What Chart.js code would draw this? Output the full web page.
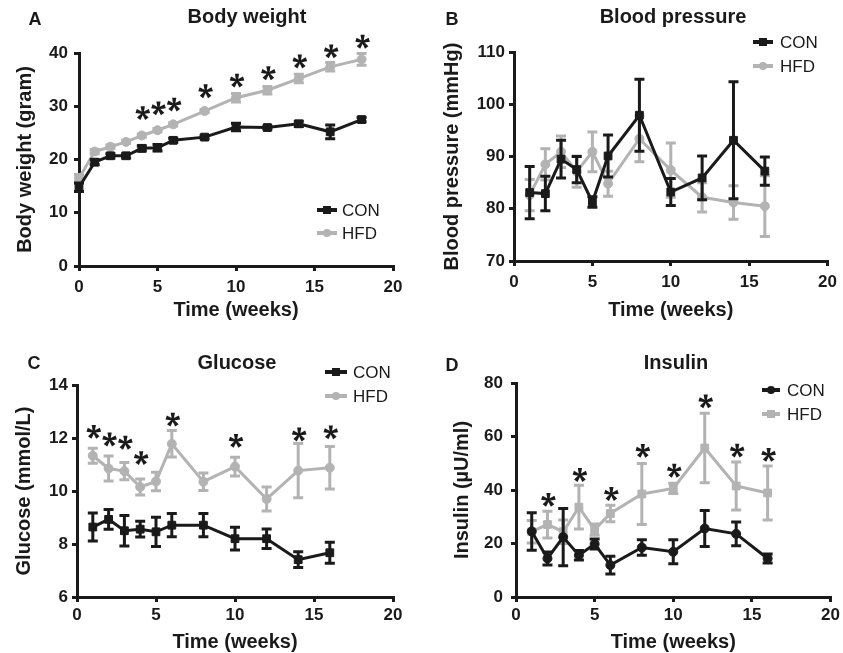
<!DOCTYPE html>
<html>
<head>
<meta charset="utf-8">
<script src="https://cdn.jsdelivr.net/npm/chart.js@4.4.0/dist/chart.umd.min.js"></script>
<style>
  body { margin: 0; background: #fff; }
  #wrap { position: relative; width: 843px; height: 653px; overflow: hidden; background: #fff; }
  canvas { position: absolute; }
</style>
</head>
<body>
<div id="wrap">
  <canvas id="weightChart" width="421" height="322" style="left:0;top:0"></canvas>
  <canvas id="pressureChart" width="422" height="322" style="left:421px;top:0"></canvas>
  <canvas id="glucoseChart" width="421" height="334" style="left:0;top:320px"></canvas>
  <canvas id="insulinChart" width="422" height="334" style="left:421px;top:320px"></canvas>
</div>
<script>
const BLACK = '#1a1a1a';
const GREY = '#b3b3b3';
const FONT = '"Liberation Sans", Arial, Helvetica, sans-serif';

Chart.defaults.font.family = FONT;
Chart.defaults.color = BLACK;
Chart.defaults.animation = false;

// Body weight (gram)
const weightWeeks = [0, 1, 2, 3, 4, 5, 6, 8, 10, 12, 14, 16, 18];
const weightCon = [14.8, 19.5, 20.7, 20.7, 22.1, 22.2, 23.6, 24.2, 26.1, 26.0, 26.7, 25.2, 27.5];
const weightConErr = [0.8, 0.5, 0.4, 0.4, 0.5, 0.6, 0.4, 0.3, 0.7, 0.3, 0.5, 1.3, 0.4];
const weightHfd = [16.5, 21.5, 22.4, 23.3, 24.5, 25.5, 26.6, 29.1, 31.6, 33.0, 35.2, 37.4, 38.8];
const weightHfdErr = [0.7, 0.4, 0.3, 0.3, 0.3, 0.3, 0.3, 0.3, 0.8, 0.7, 0.8, 0.8, 1.1];
const weightStarWeeks = [4, 5, 6, 8, 10, 12, 14, 16, 18];
const weightStarY = [28.7, 29.6, 30.3, 32.8, 34.8, 36.2, 38.4, 40.3, 42.1];

// Blood pressure (mmHg)
const pressureWeeks = [1, 2, 3, 4, 5, 6, 8, 10, 12, 14, 16];
const pressureCon = [83.1, 82.9, 89.5, 87.5, 81.3, 90.1, 97.9, 83.2, 85.9, 93.1, 87.2];
const pressureConErr = [5.0, 3.3, 3.6, 2.5, 1.0, 4.0, 6.9, 2.6, 4.2, 11.2, 2.7];
const pressureHfd = [82.6, 88.5, 90.9, 87.1, 90.9, 84.8, 93.4, 87.4, 82.2, 81.2, 80.5];
const pressureHfdErr = [3.0, 3.0, 3.0, 3.0, 3.8, 2.4, 4.4, 5.2, 2.8, 3.2, 5.8];

// Glucose (mmol/L)
const glucoseWeeks = [1, 2, 3, 4, 5, 6, 8, 10, 12, 14, 16];
const glucoseCon = [8.64, 8.93, 8.5, 8.56, 8.46, 8.71, 8.71, 8.2, 8.2, 7.41, 7.67];
const glucoseConErr = [0.53, 0.37, 0.58, 0.3, 0.55, 0.44, 0.44, 0.43, 0.37, 0.3, 0.4];
const glucoseHfd = [11.33, 10.85, 10.75, 10.15, 10.36, 11.78, 10.35, 10.92, 9.7, 10.77, 10.88];
const glucoseHfdErr = [0.28, 0.47, 0.33, 0.3, 0.35, 0.5, 0.33, 0.35, 0.45, 1.02, 0.8];
const glucoseStarWeeks = [1, 2, 3, 4, 6, 10, 14, 16];
const glucoseStarY = [12.23, 11.94, 11.82, 11.24, 12.69, 11.89, 12.13, 12.21];

// Insulin (uU/ml)
const insulinWeeks = [1, 2, 3, 4, 5, 6, 8, 10, 12, 14, 16];
const insulinCon = [24.5, 14.4, 22.4, 15.6, 19.8, 11.9, 18.5, 16.9, 25.6, 23.6, 14.4];
const insulinConErr = [7.0, 2.4, 10.7, 1.8, 1.9, 3.3, 2.9, 4.5, 6.7, 4.4, 1.7];
const insulinHfd = [24.4, 27.1, 24.4, 33.6, 25.2, 31.2, 38.5, 40.6, 55.7, 41.5, 38.9];
const insulinHfdErr = [4.2, 5.0, 4.4, 8.2, 2.1, 3.1, 11.4, 1.9, 13.0, 9.0, 10.1];
const insulinStarWeeks = [2, 4, 6, 8, 10, 12, 14, 16];
const insulinStarY = [36.3, 45.6, 38.5, 54.6, 47.2, 73.1, 54.7, 53.1];

function points(weeks, values) {
    return weeks.map((w, i) => ({ x: w, y: values[i] }));
}

// error bars are drawn just before their own series
const errorBars = {
    id: 'errorBars',
    beforeDatasetDraw(chart, args) {
        const ds = chart.data.datasets[args.index];
        if (!ds.errors) return;
        const xs = chart.scales.x, ys = chart.scales.y, ctx = chart.ctx;
        ctx.save();
        ctx.strokeStyle = ds.borderColor;
        ctx.lineWidth = 3;
        ds.data.forEach((p, i) => {
            const x = xs.getPixelForValue(p.x);
            const top = ys.getPixelForValue(p.y + ds.errors[i]);
            const bot = ys.getPixelForValue(p.y - ds.errors[i]);
            ctx.beginPath();
            ctx.moveTo(x, top); ctx.lineTo(x, bot);
            ctx.moveTo(x - 5, top); ctx.lineTo(x + 5, top);
            ctx.moveTo(x - 5, bot); ctx.lineTo(x + 5, bot);
            ctx.stroke();
        });
        ctx.restore();
    }
};

// five armed asterisk, arms get wider towards the tip
function drawStar(ctx, x, y) {
    const r = 7;
    for (let k = 0; k < 5; k++) {
        const a = (-90 + k * 72) * Math.PI / 180;
        const c = Math.cos(a), s = Math.sin(a);
        const nx = -s, ny = c;
        ctx.beginPath();
        ctx.moveTo(x + nx * 0.9, y + ny * 0.9);
        ctx.lineTo(x + c * r + nx * 2.1, y + s * r + ny * 2.1);
        ctx.lineTo(x + c * r - nx * 2.1, y + s * r - ny * 2.1);
        ctx.lineTo(x - nx * 0.9, y - ny * 0.9);
        ctx.closePath();
        ctx.fill();
    }
    ctx.beginPath();
    ctx.arc(x, y, 1.6, 0, Math.PI * 2);
    ctx.fill();
}

// panel letter, title, legend and significance stars
const decor = {
    id: 'decor',
    afterDraw(chart, args, opts) {
        const ctx = chart.ctx;
        ctx.save();
        ctx.fillStyle = BLACK;
        ctx.textBaseline = 'middle';
        ctx.font = 'bold 18px ' + FONT;
        ctx.textAlign = 'center';
        ctx.fillText(opts.letter, opts.letterPos[0], opts.letterPos[1]);
        ctx.font = 'bold 20px ' + FONT;
        ctx.fillText(opts.title, opts.titlePos[0], opts.titlePos[1]);

        // legend
        ctx.font = '17px ' + FONT;
        ctx.textAlign = 'left';
        chart.data.datasets.forEach((ds, i) => {
            const y = opts.legendY[i];
            const [x0, x1] = opts.legendLine;
            ctx.strokeStyle = ds.borderColor;
            ctx.fillStyle = ds.borderColor;
            ctx.lineWidth = 4;
            ctx.beginPath();
            ctx.moveTo(x0, y); ctx.lineTo(x1, y);
            ctx.stroke();
            const cx = (x0 + x1) / 2;
            if (ds.pointStyle === 'rect') {
                ctx.fillRect(cx - 4, y - 4, 8, 8);
            } else {
                ctx.beginPath();
                ctx.arc(cx, y, 4, 0, Math.PI * 2);
                ctx.fill();
            }
            ctx.fillStyle = BLACK;
            ctx.fillText(ds.label, opts.legendText, y + 1);
        });

        // stars
        if (opts.starWeeks) {
            ctx.fillStyle = BLACK;
            opts.starWeeks.forEach((w, i) => {
                const x = chart.scales.x.getPixelForValue(w) + 1;
                const y = chart.scales.y.getPixelForValue(opts.starY[i]);
                drawStar(ctx, x, y);
            });
        }
        ctx.restore();
    }
};

function makePanel(id, p) {
    const axisFont = { size: 20, weight: 'bold' };
    const tickFont = { size: 17, weight: 'bold' };
    const gridOpts = { drawOnChartArea: false, tickLength: 5, lineWidth: 3, color: BLACK };
    return new Chart(document.getElementById(id), {
        type: 'line',
        data: {
            datasets: [{
                label: 'CON',
                data: points(p.weeks, p.con),
                errors: p.conErr,
                borderColor: BLACK,
                backgroundColor: BLACK,
                borderWidth: 3,
                pointStyle: p.conStyle,
                pointRadius: p.conStyle === 'rect' ? 5.5 : 4.5,
                pointBorderWidth: 1,
                clip: false
            }, {
                label: 'HFD',
                data: points(p.weeks, p.hfd),
                errors: p.hfdErr,
                borderColor: GREY,
                backgroundColor: GREY,
                borderWidth: 3,
                pointStyle: p.hfdStyle,
                pointRadius: p.hfdStyle === 'rect' ? 5.5 : 4.5,
                pointBorderWidth: 1,
                clip: false
            }]
        },
        options: {
            responsive: false,
            animation: false,
            layout: { padding: p.padding },
            plugins: {
                legend: { display: false },
                tooltip: { enabled: false },
                decor: p.decor
            },
            scales: {
                x: {
                    type: 'linear', min: 0, max: 20,
                    afterFit: s => { s.height = p.xHeight; },
                    ticks: { stepSize: 5, font: tickFont, color: BLACK, padding: p.xTickPad },
                    grid: gridOpts,
                    border: { width: 3, color: BLACK },
                    title: { display: true, text: 'Time (weeks)', font: axisFont, color: BLACK, padding: 0 }
                },
                y: {
                    min: p.yMin, max: p.yMax,
                    afterFit: s => { s.width = p.yWidth; },
                    ticks: { stepSize: p.yStep, font: tickFont, color: BLACK, padding: p.yTickPad },
                    grid: gridOpts,
                    border: { width: 3, color: BLACK },
                    title: { display: true, text: p.yTitle, font: axisFont, color: BLACK, padding: 0 }
                }
            }
        },
        plugins: [errorBars, decor]
    });
}

makePanel('weightChart', {
    weeks: weightWeeks, con: weightCon, conErr: weightConErr, hfd: weightHfd, hfdErr: weightHfdErr,
    conStyle: 'rect', hfdStyle: 'circle',
    yMin: 0, yMax: 40, yStep: 10, yTitle: 'Body weight (gram)',
    padding: { top: 53, right: 28, left: 13, bottom: 0 },
    yWidth: 66, xHeight: 56, yTickPad: 6, xTickPad: 6,
    decor: {
        letter: 'A', letterPos: [35, 20], title: 'Body weight', titlePos: [247, 17],
        legendLine: [317, 337], legendY: [210, 233], legendText: 342,
        starWeeks: weightStarWeeks, starY: weightStarY
    }
});

makePanel('pressureChart', {
    weeks: pressureWeeks, con: pressureCon, conErr: pressureConErr, hfd: pressureHfd, hfdErr: pressureHfdErr,
    conStyle: 'rect', hfdStyle: 'circle',
    yMin: 70, yMax: 110, yStep: 10, yTitle: 'Blood pressure (mmHg)',
    padding: { top: 52, right: 14, left: 19, bottom: 0 },
    yWidth: 74, xHeight: 61, yTickPad: 4, xTickPad: 6,
    decor: {
        letter: 'B', letterPos: [31, 20], title: 'Blood pressure', titlePos: [252, 17],
        legendLine: [332, 352], legendY: [42, 66], legendText: 359
    }
});

makePanel('glucoseChart', {
    weeks: glucoseWeeks, con: glucoseCon, conErr: glucoseConErr, hfd: glucoseHfd, hfdErr: glucoseHfdErr,
    conStyle: 'rect', hfdStyle: 'circle',
    yMin: 6, yMax: 14, yStep: 2, yTitle: 'Glucose (mmol/L)',
    padding: { top: 65, right: 28, left: 12, bottom: 0 },
    yWidth: 65, xHeight: 57, yTickPad: 4, xTickPad: 3,
    decor: {
        letter: 'C', letterPos: [34, 44], title: 'Glucose', titlePos: [237, 43],
        legendLine: [325, 347], legendY: [52, 76], legendText: 353,
        starWeeks: glucoseStarWeeks, starY: glucoseStarY
    }
});

makePanel('insulinChart', {
    weeks: insulinWeeks, con: insulinCon, conErr: insulinConErr, hfd: insulinHfd, hfdErr: insulinHfdErr,
    conStyle: 'circle', hfdStyle: 'rect',
    yMin: 0, yMax: 80, yStep: 20, yTitle: 'Insulin (\u00b5U/ml)',
    padding: { top: 63, right: 10, left: 29, bottom: 0 },
    yWidth: 66, xHeight: 57, yTickPad: 8, xTickPad: 3,
    decor: {
        letter: 'D', letterPos: [31, 46], title: 'Insulin', titlePos: [255, 43],
        legendLine: [341, 359], legendY: [70, 94], legendText: 366,
        starWeeks: insulinStarWeeks, starY: insulinStarY
    }
});
</script>
</body>
</html>
